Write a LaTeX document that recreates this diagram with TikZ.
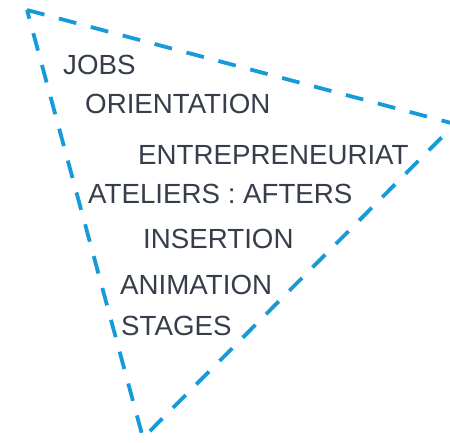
\documentclass[tikz,border=0pt]{standalone}
\usepackage{fontspec}
\setmainfont{Liberation Sans}
\definecolor{tri}{RGB}{22,154,218}
\definecolor{txt}{RGB}{54,61,75}
\begin{document}
\begin{tikzpicture}[x=1pt,y=-1pt,
  lbl/.style={anchor=base west,inner sep=0pt,text=txt,font=\fontsize{27.7}{30}\selectfont},
  tri/.style={draw=tri,line width=3.8pt,dash pattern=on 18pt off 15pt}]
\useasboundingbox (0,0) rectangle (450,442);
\begin{scope}
\clip (0,0) rectangle (450,442);
\coordinate (A) at (27,10);
\coordinate (B) at (455,124);
\coordinate (C) at (143,438);
\draw[tri] (A) -- (B) -- (C) -- cycle;
\end{scope}
\node[lbl] (jobs) at (63,74) {JOBS};
\node[lbl] (orient) at (85,113) {ORIENTATION};
\node[lbl] (entre) at (138,164) {ENTREPRENEURIAT};
\node[lbl] (atel) at (88,203) {ATELIERS : AFTERS};
\node[lbl] (ins) at (143,248) {INSERTION};
\node[lbl] (anim) at (120,294) {ANIMATION};
\node[lbl] (stages) at (121,335) {STAGES};
\end{tikzpicture}
\end{document}
